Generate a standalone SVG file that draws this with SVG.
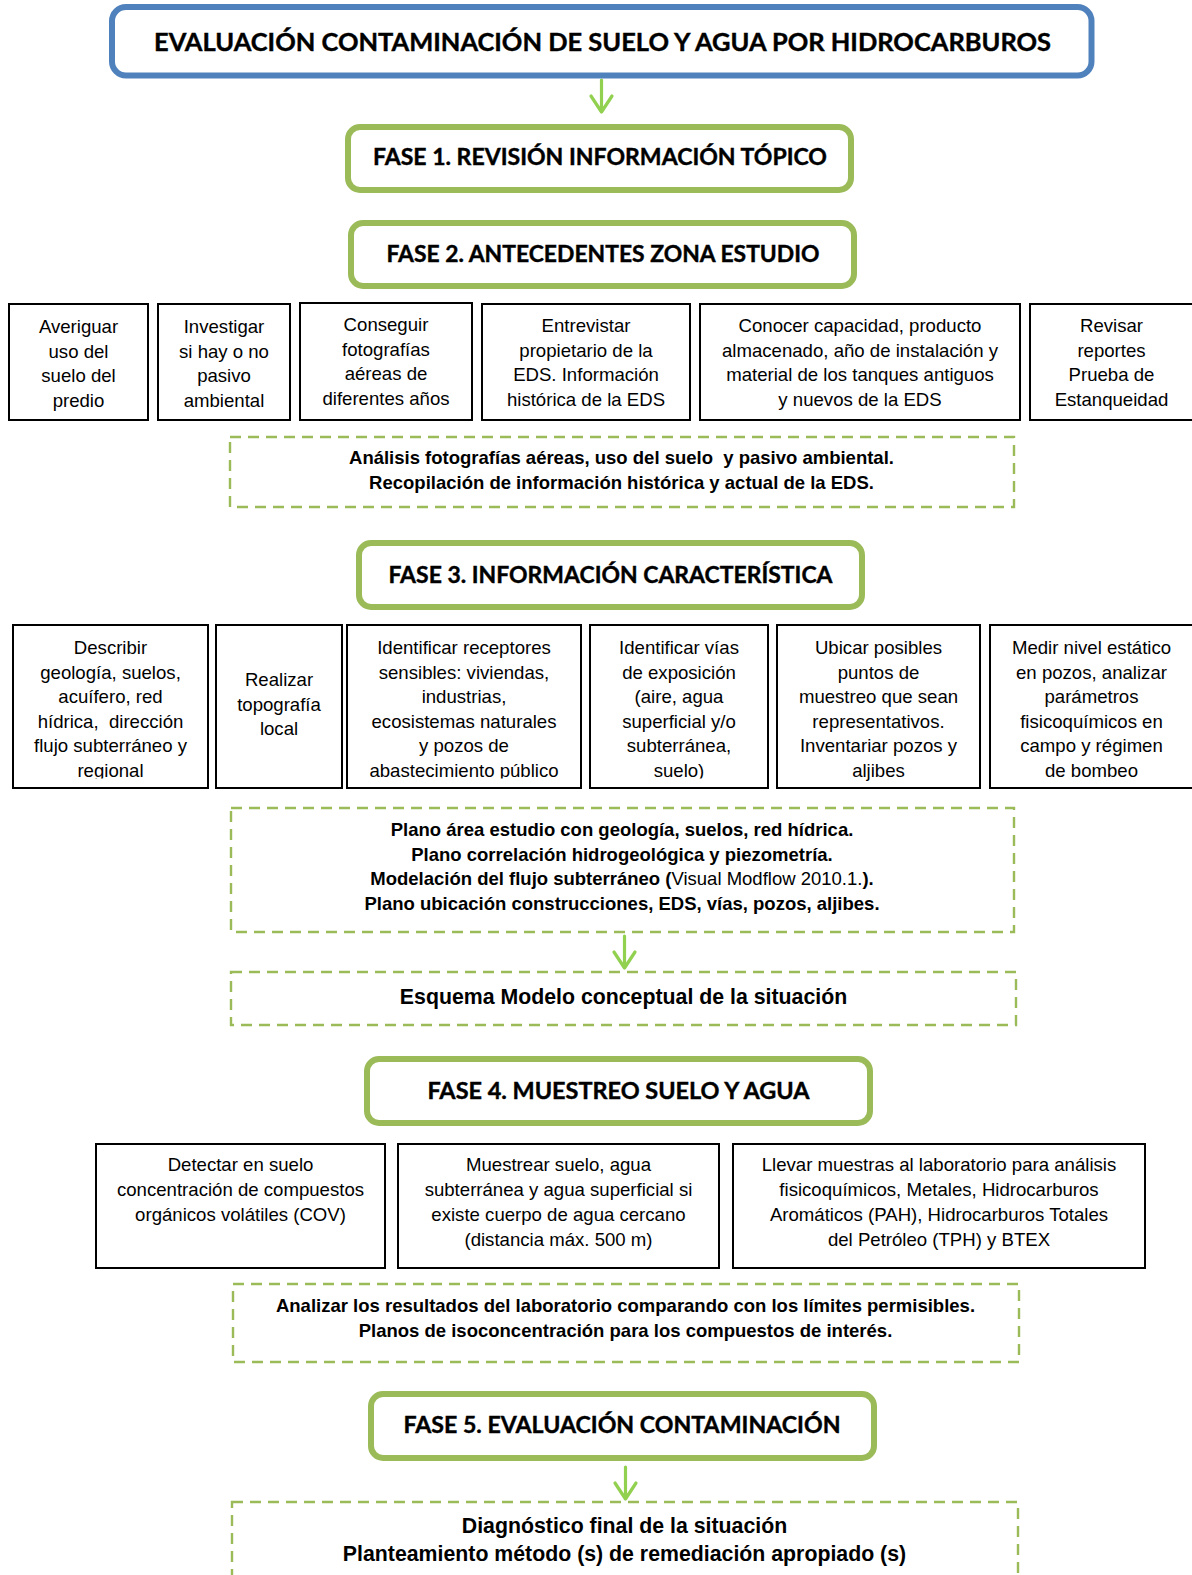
<svg xmlns="http://www.w3.org/2000/svg" width="1192" height="1575" viewBox="0 0 1192 1575">
  <style>
    .title { fill: #fff; stroke: #4F81BD; stroke-width: 6; }
    .phase { fill: #fff; stroke: #9BBB59; stroke-width: 6; }
    .task { fill: #fff; stroke: #000; stroke-width: 2; }
    .result { fill: none; stroke: #9BBB59; stroke-width: 2.4; stroke-dasharray: 11 7; }
    .head { font-family: Lato, "Open Sans", "Liberation Sans", sans-serif; font-weight: 700; fill: #000; stroke: #000; stroke-width: 0.4; text-anchor: middle; }
    .body { font-family: "Liberation Sans", Arial, sans-serif; font-size: 18.6px; fill: #000; text-anchor: middle; }
    .bold { font-family: "Liberation Sans", Arial, sans-serif; font-size: 18.5px; font-weight: 700; fill: #000; text-anchor: middle; }
    .bold.big { font-size: 21.3px; }
    .arrow { fill: none; stroke: #92D050; stroke-width: 3.2; stroke-linecap: round; stroke-linejoin: round; }
  </style>
  <defs>
    <clipPath id="clip-row3">
      <rect x="0" y="620" width="1192" height="158.5"/>
    </clipPath>
  </defs>
  <rect width="1192" height="1575" fill="#fff"/>

  <!-- connectors -->
  <g id="connectors">
    <path class="arrow" d="M601.5 80 V112 M591 96 L601.5 112 L612 96"/>
    <path class="arrow" d="M624.5 936 V968 M614 952 L624.5 968 L635 952"/>
    <path class="arrow" d="M625.5 1467 V1499 M615 1483 L625.5 1499 L636 1483"/>
  </g>

  <!-- main title -->
  <g id="title">
    <rect class="title" x="112" y="7" width="979.5" height="68.5" rx="14"/>
    <text class="head" x="602.5" y="51" font-size="25" textLength="897" lengthAdjust="spacingAndGlyphs">EVALUACIÓN CONTAMINACIÓN DE SUELO Y AGUA POR HIDROCARBUROS</text>
  </g>

  <!-- phase 1 -->
  <g id="fase1">
    <rect class="phase" x="348" y="127" width="503" height="63" rx="12"/>
    <text class="head" x="600" y="164.5" font-size="23" textLength="454" lengthAdjust="spacingAndGlyphs">FASE 1. REVISIÓN INFORMACIÓN TÓPICO</text>
  </g>

  <!-- phase 2 -->
  <g id="fase2">
    <rect class="phase" x="351" y="223" width="503" height="63" rx="12"/>
    <text class="head" x="603" y="261.5" font-size="23" textLength="433" lengthAdjust="spacingAndGlyphs">FASE 2. ANTECEDENTES ZONA ESTUDIO</text>
  </g>

  <g id="f2-uso-suelo">
    <rect class="task" x="9" y="304" width="139" height="116"/>
    <text class="body" x="78.5" y="333">Averiguar<tspan x="78.5" dy="24.6">uso del</tspan><tspan x="78.5" dy="24.6">suelo del</tspan><tspan x="78.5" dy="24.6">predio</tspan></text>
  </g>
  <g id="f2-pasivo">
    <rect class="task" x="158" y="304" width="132" height="116"/>
    <text class="body" x="224" y="333">Investigar<tspan x="224" dy="24.6">si hay o no</tspan><tspan x="224" dy="24.6">pasivo</tspan><tspan x="224" dy="24.6">ambiental</tspan></text>
  </g>
  <g id="f2-fotografias">
    <rect class="task" x="300" y="303" width="172" height="117"/>
    <text class="body" x="386" y="331">Conseguir<tspan x="386" dy="24.6">fotografías</tspan><tspan x="386" dy="24.6">aéreas de</tspan><tspan x="386" dy="24.6">diferentes años</tspan></text>
  </g>
  <g id="f2-propietario">
    <rect class="task" x="482" y="304" width="208" height="116"/>
    <text class="body" x="586" y="332">Entrevistar<tspan x="586" dy="24.6">propietario de la</tspan><tspan x="586" dy="24.6">EDS. Información</tspan><tspan x="586" dy="24.6">histórica de la EDS</tspan></text>
  </g>
  <g id="f2-tanques">
    <rect class="task" x="700" y="304" width="320" height="116"/>
    <text class="body" x="860" y="332">Conocer capacidad, producto<tspan x="860" dy="24.6">almacenado, año de instalación y</tspan><tspan x="860" dy="24.6">material de los tanques antiguos</tspan><tspan x="860" dy="24.6">y nuevos de la EDS</tspan></text>
  </g>
  <g id="f2-estanqueidad">
    <rect class="task" x="1030" y="304" width="166" height="116"/>
    <text class="body" x="1111.5" y="332">Revisar<tspan x="1111.5" dy="24.6">reportes</tspan><tspan x="1111.5" dy="24.6">Prueba de</tspan><tspan x="1111.5" dy="24.6">Estanqueidad</tspan></text>
  </g>

  <g id="r2-analisis">
    <rect class="result" x="230" y="437" width="784" height="70"/>
    <text class="bold" x="621.5" y="464">Análisis fotografías aéreas, uso del suelo&#160; y pasivo ambiental.<tspan x="621.5" dy="25">Recopilación de información histórica y actual de la EDS.</tspan></text>
  </g>

  <!-- phase 3 -->
  <g id="fase3">
    <rect class="phase" x="359" y="543" width="503" height="64" rx="12"/>
    <text class="head" x="610.5" y="582.5" font-size="23" textLength="444" lengthAdjust="spacingAndGlyphs">FASE 3. INFORMACIÓN CARACTERÍSTICA</text>
  </g>

  <g id="f3-geologia">
    <rect class="task" x="13" y="625" width="195" height="163"/>
    <text class="body" x="110.5" y="654" clip-path="url(#clip-row3)">Describir<tspan x="110.5" dy="24.5">geología, suelos,</tspan><tspan x="110.5" dy="24.5">acuífero, red</tspan><tspan x="110.5" dy="24.5">hídrica,&#160; dirección</tspan><tspan x="110.5" dy="24.5">flujo subterráneo y</tspan><tspan x="110.5" dy="24.5">regional</tspan></text>
  </g>
  <g id="f3-topografia">
    <rect class="task" x="216" y="625" width="126" height="163"/>
    <text class="body" x="279" y="686">Realizar<tspan x="279" dy="24.5">topografía</tspan><tspan x="279" dy="24.5">local</tspan></text>
  </g>
  <g id="f3-receptores">
    <rect class="task" x="347" y="625" width="234" height="163"/>
    <text class="body" x="464" y="654" clip-path="url(#clip-row3)">Identificar receptores<tspan x="464" dy="24.5">sensibles: viviendas,</tspan><tspan x="464" dy="24.5">industrias,</tspan><tspan x="464" dy="24.5">ecosistemas naturales</tspan><tspan x="464" dy="24.5">y pozos de</tspan><tspan x="464" dy="24.5">abastecimiento público</tspan></text>
  </g>
  <g id="f3-exposicion">
    <rect class="task" x="590" y="625" width="178" height="163"/>
    <text class="body" x="679" y="654" clip-path="url(#clip-row3)">Identificar vías<tspan x="679" dy="24.5">de exposición</tspan><tspan x="679" dy="24.5">(aire, agua</tspan><tspan x="679" dy="24.5">superficial y/o</tspan><tspan x="679" dy="24.5">subterránea,</tspan><tspan x="679" dy="24.5">suelo)</tspan></text>
  </g>
  <g id="f3-muestreo">
    <rect class="task" x="777" y="625" width="203" height="163"/>
    <text class="body" x="878.5" y="654">Ubicar posibles<tspan x="878.5" dy="24.5">puntos de</tspan><tspan x="878.5" dy="24.5">muestreo que sean</tspan><tspan x="878.5" dy="24.5">representativos.</tspan><tspan x="878.5" dy="24.5">Inventariar pozos y</tspan><tspan x="878.5" dy="24.5">aljibes</tspan></text>
  </g>
  <g id="f3-nivel">
    <rect class="task" x="990" y="625" width="206" height="163"/>
    <text class="body" x="1091.5" y="654">Medir nivel estático<tspan x="1091.5" dy="24.5">en pozos, analizar</tspan><tspan x="1091.5" dy="24.5">parámetros</tspan><tspan x="1091.5" dy="24.5">fisicoquímicos en</tspan><tspan x="1091.5" dy="24.5">campo y régimen</tspan><tspan x="1091.5" dy="24.5">de bombeo</tspan></text>
  </g>

  <g id="r3-planos">
    <rect class="result" x="231" y="808" width="783" height="124"/>
    <text class="bold" x="622" y="836">Plano área estudio con geología, suelos, red hídrica.<tspan x="622" dy="24.6">Plano correlación hidrogeológica y piezometría.</tspan><tspan x="622" dy="24.6">Modelación del flujo subterráneo (<tspan font-weight="400">Visual Modflow 2010.1.</tspan>).</tspan><tspan x="622" dy="24.6">Plano ubicación construcciones, EDS, vías, pozos, aljibes.</tspan></text>
  </g>

  <g id="r3-modelo">
    <rect class="result" x="231" y="972" width="785" height="53"/>
    <text class="bold big" x="623.5" y="1004">Esquema Modelo conceptual de la situación</text>
  </g>

  <!-- phase 4 -->
  <g id="fase4">
    <rect class="phase" x="367" y="1059" width="503" height="64" rx="12"/>
    <text class="head" x="618.5" y="1098.5" font-size="23" textLength="382" lengthAdjust="spacingAndGlyphs">FASE 4. MUESTREO SUELO Y AGUA</text>
  </g>

  <g id="f4-cov">
    <rect class="task" x="96" y="1144" width="289" height="124"/>
    <text class="body" x="240.5" y="1171">Detectar en suelo<tspan x="240.5" dy="25">concentración de compuestos</tspan><tspan x="240.5" dy="25">orgánicos volátiles (COV)</tspan></text>
  </g>
  <g id="f4-muestrear">
    <rect class="task" x="398" y="1144" width="321" height="124"/>
    <text class="body" x="558.5" y="1171">Muestrear suelo, agua<tspan x="558.5" dy="25">subterránea y agua superficial si</tspan><tspan x="558.5" dy="25">existe cuerpo de agua cercano</tspan><tspan x="558.5" dy="25">(distancia máx. 500 m)</tspan></text>
  </g>
  <g id="f4-laboratorio">
    <rect class="task" x="733" y="1144" width="412" height="124"/>
    <text class="body" x="939" y="1171">Llevar muestras al laboratorio para análisis<tspan x="939" dy="25">fisicoquímicos, Metales, Hidrocarburos</tspan><tspan x="939" dy="25">Aromáticos (PAH), Hidrocarburos Totales</tspan><tspan x="939" dy="25">del Petróleo (TPH) y BTEX</tspan></text>
  </g>

  <g id="r4-resultados">
    <rect class="result" x="233" y="1284" width="786" height="78"/>
    <text class="bold" x="625.5" y="1312">Analizar los resultados del laboratorio comparando con los límites permisibles.<tspan x="625.5" dy="25">Planos de isoconcentración para los compuestos de interés.</tspan></text>
  </g>

  <!-- phase 5 -->
  <g id="fase5">
    <rect class="phase" x="371" y="1394" width="503" height="64" rx="12"/>
    <text class="head" x="622" y="1432.5" font-size="23" textLength="437" lengthAdjust="spacingAndGlyphs">FASE 5. EVALUACIÓN CONTAMINACIÓN</text>
  </g>

  <g id="r5-diagnostico">
    <rect class="result" x="232" y="1502" width="786" height="90"/>
    <text class="bold big" x="624.5" y="1533">Diagnóstico final de la situación<tspan x="624.5" dy="28">Planteamiento método (s) de remediación apropiado (s)</tspan></text>
  </g>
</svg>
